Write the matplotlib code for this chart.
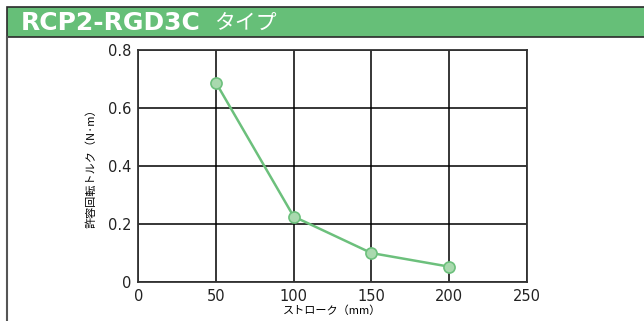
import matplotlib
matplotlib.use("Agg")
import matplotlib.pyplot as plt
from matplotlib.patches import Rectangle
from matplotlib.lines import Line2D

plt.rcParams['font.family'] = ['Noto Sans CJK JP', 'DejaVu Sans']

stroke = [50, 100, 150, 200]
torque = [0.687, 0.225, 0.099, 0.052]
xticks = [0, 50, 100, 150, 200, 250]
yticks = [0, 0.2, 0.4, 0.6, 0.8]
ytick_labels = ['0', '0.2', '0.4', '0.6', '0.8']
title_main = 'RCP2-RGD3C'
title_sub = 'タイプ'

W, H = 644, 321
fig = plt.figure(figsize=(W / 100, H / 100), dpi=100)
fig.patch.set_facecolor('white')

# banner + frame
fig.patches.append(Rectangle((7 / W, 1 - 37 / H), 1.05 - 7 / W, 30 / H,
                             transform=fig.transFigure, facecolor='#66bf78',
                             edgecolor='#2a2a2a', linewidth=1.2))
fig.lines.append(Line2D([7 / W, 7 / W], [0, 1 - 37 / H], transform=fig.transFigure,
                        color='#555555', linewidth=1.5))
fig.text(21 / W, 1 - 23 / H, title_main, color='white', fontsize=18,
         fontweight='bold', family=['DejaVu Sans'], va='center', ha='left')
fig.text(214 / W, 1 - 23 / H, title_sub, color='white', fontsize=15,
         va='center', ha='left')

ax = fig.add_axes([138.3 / W, 1 - 281.7 / H, (526.7 - 138.3) / W, (281.7 - 50) / H])
ax.plot(stroke, torque, color='#6cc07c', linewidth=1.8, marker='o', markersize=8,
        markerfacecolor='#a9d9ae', markeredgecolor='#6cc07c', markeredgewidth=1.2,
        zorder=3)
ax.set_xlim(0, 250)
ax.set_ylim(0, 0.8)
ax.set_xticks(xticks)
ax.set_yticks(yticks)
ax.set_yticklabels(ytick_labels)
ax.grid(True, color='black', linewidth=1.1)
for s in ax.spines.values():
    s.set_color('#333333')
    s.set_linewidth(1.3)
ax.tick_params(length=0, labelsize=10.5, colors='#222222', pad=5)
for lbl in ax.get_xticklabels() + ax.get_yticklabels():
    lbl.set_family(['DejaVu Sans'])
ax.set_xlabel('ストローク（mm）', fontsize=8, labelpad=1)
ax.set_ylabel('許容回転トルク（N·m）', fontsize=8, labelpad=8)

fig.savefig('out.png', dpi=100)
